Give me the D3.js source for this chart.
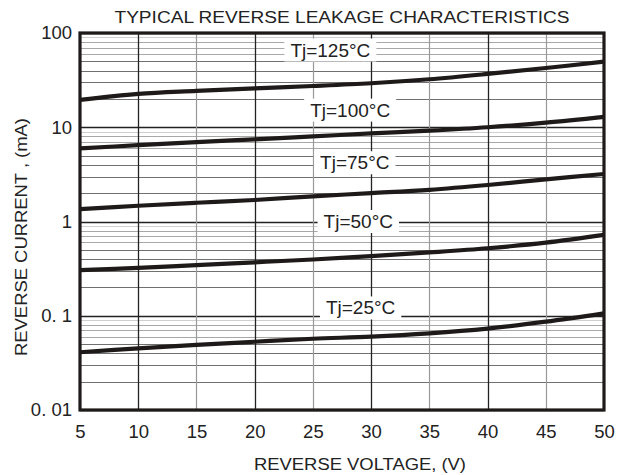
<!DOCTYPE html>
<html><head><meta charset="utf-8">
<script src="https://cdn.jsdelivr.net/npm/d3@7"></script>
<style>body{margin:0;background:#fff}text{font-family:"Liberation Sans",Arial,sans-serif;fill:#222}</style>
</head><body><svg id="c" width="623" height="475"></svg>
<script>
const voltages = [5,10,15,20,25,30,35,40,45,50];
const tj125 = [19.5,22.6,24.3,25.9,27.4,29.3,32.3,36.8,42.5,49.6];
const tj100 = [5.97,6.45,6.95,7.45,8.0,8.6,9.2,10.0,11.2,12.9];
const tj75 = [1.35,1.47,1.58,1.69,1.85,2.0,2.17,2.44,2.8,3.19];
const tj50 = [0.305,0.322,0.345,0.369,0.395,0.43,0.47,0.52,0.596,0.72];
const tj25 = [0.041,0.045,0.049,0.053,0.057,0.060,0.065,0.073,0.0865,0.106];
const seriesNames = ["Tj=125°C","Tj=100°C","Tj=75°C","Tj=50°C","Tj=25°C"];
const labelV = [26.5,28.2,28.6,28.9,29.1];
const labelI = [66,15.2,4.2,1.0,0.121];
const xTicks = [5,10,15,20,25,30,35,40,45,50];
const yTicks = [100,10,1,0.1,0.01];
const yTickLabels = ["100","10","1","0. 1","0. 01"];
const title = "TYPICAL REVERSE LEAKAGE CHARACTERISTICS";
const xTitle = "REVERSE VOLTAGE, (V)";
const yTitle = "REVERSE CURRENT , (mA)";

const series = [tj125,tj100,tj75,tj50,tj25];
const svg = d3.select("#c");
const L=80,R=604,T=33,B=410;
const x = d3.scaleLinear().domain([5,50]).range([L,R]);
const y = d3.scaleLog().domain([0.01,100]).range([B,T]);

// minor horizontal grid
const minor=[];
for (let d=0.01; d<100; d*=10) for (let k=2;k<=9;k++) minor.push({v:+(d*k).toPrecision(3),k});
const g = svg.append("g");
g.selectAll("line.mh").data(minor).join("line")
 .attr("x1",L).attr("x2",R).attr("y1",d=>Math.round(y(d.v))+0.5).attr("y2",d=>Math.round(y(d.v))+0.5)
 .attr("stroke",d=>d.k<=5?"#707070":(d.k==9?"#cfcfcf":"#a8a8a8")).attr("stroke-width",1.2);
// decade lines
g.selectAll("line.dh").data(yTicks).join("line")
 .attr("x1",L).attr("x2",R).attr("y1",d=>Math.round(y(d))+0.5).attr("y2",d=>Math.round(y(d))+0.5)
 .attr("stroke","#222").attr("stroke-width",1.3);
// vertical grid
g.selectAll("line.v").data(xTicks.slice(1,-1)).join("line")
 .attr("y1",T).attr("y2",B).attr("x1",d=>Math.round(x(d))+0.5).attr("x2",d=>Math.round(x(d))+0.5)
 .attr("stroke",d=>d%10==0?"#222":"#999").attr("stroke-width",d=>d%10==0?1.3:1.2);

// curves
const line = d3.line().x((d,i)=>x(voltages[i])).y(d=>y(d)).curve(d3.curveCatmullRom.alpha(0.5));
svg.append("g").selectAll("path").data(series).join("path")
 .attr("d",line).attr("fill","none").attr("stroke","#1e1a1a").attr("stroke-width",4.2);

// label boxes
const lab = svg.append("g");
seriesNames.forEach((n,i)=>{
  const t = lab.append("text").text(n).attr("x",x(labelV[i])).attr("y",y(labelI[i]))
   .attr("text-anchor","middle").attr("dominant-baseline","central").attr("font-size",19);
  const bb = t.node().getBBox();
  lab.insert("rect","text").attr("x",bb.x-6).attr("y",bb.y-1).attr("width",bb.width+12).attr("height",bb.height+2).attr("fill","#fff");
});

// border
svg.append("rect").attr("x",L).attr("y",T).attr("width",R-L).attr("height",B-T)
 .attr("fill","none").attr("stroke","#1e1a1a").attr("stroke-width",3.2);

// axes labels
const xa = d3.axisBottom(x).tickValues(xTicks).tickSize(0).tickPadding(15).tickFormat(d3.format("d"));
const xg = svg.append("g").attr("transform",`translate(0,${B})`).call(xa);
xg.select(".domain").remove();
xg.selectAll("text").attr("font-size",18.5).attr("fill","#222").style("font-family","Liberation Sans, Arial, sans-serif");
const ya = d3.axisLeft(y).tickValues(yTicks).tickSize(0).tickPadding(8).tickFormat((d,i)=>yTickLabels[i]);
const yg = svg.append("g").attr("transform",`translate(${L},0)`).call(ya);
yg.select(".domain").remove();
yg.selectAll("text").attr("font-size",18.5).attr("fill","#222").style("font-family","Liberation Sans, Arial, sans-serif");

svg.append("text").text(title).attr("x",342).attr("y",23).attr("text-anchor","middle").attr("font-size",16)
 .attr("textLength",455).attr("lengthAdjust","spacingAndGlyphs");
svg.append("text").text(xTitle).attr("x",360).attr("y",470).attr("text-anchor","middle").attr("font-size",16)
 .attr("textLength",212).attr("lengthAdjust","spacingAndGlyphs");
svg.append("text").text(yTitle).attr("transform","translate(27,237) rotate(-90)").attr("text-anchor","middle").attr("font-size",16)
 .attr("textLength",238).attr("lengthAdjust","spacingAndGlyphs");
</script></body></html>
